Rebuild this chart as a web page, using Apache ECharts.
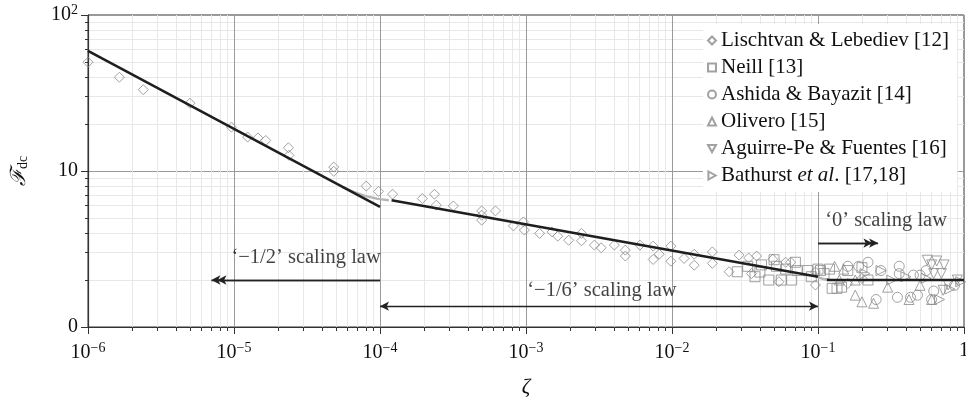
<!DOCTYPE html>
<html>
<head>
<meta charset="utf-8">
<script src="https://cdn.jsdelivr.net/npm/echarts@6/dist/echarts.min.js"></script>
<style>
  html, body { margin: 0; padding: 0; background: #fff; }
  #chart { width: 966px; height: 397px; }
</style>
</head>
<body>
<div id="chart"></div>
<script>
// data: [zeta, F_dc]
const lischtvan = [
  [1e-6, 49.8], [1.64e-6, 39.9], [2.39e-6, 33.2], [4.99e-6, 27.2], [9.6e-6, 19.1],
  [1.24e-5, 16.5], [1.46e-5, 16.3], [1.65e-5, 15.7], [2.36e-5, 14.1], [2.38e-5, 12.6],
  [4.82e-5, 10.6], [4.82e-5, 9.95], [8.05e-5, 8.0], [9.77e-5, 7.4], [1.22e-4, 7.1],
  [1.95e-4, 6.66], [2.36e-4, 7.1], [2.43e-4, 6.04], [3.18e-4, 5.97], [4.97e-4, 5.55],
  [4.97e-4, 5.21], [4.97e-4, 4.84], [6.18e-4, 5.55], [8.2e-4, 4.45], [9.6e-4, 4.72],
  [9.75e-4, 4.18], [1.24e-3, 3.98], [1.51e-3, 4.07], [1.65e-3, 3.82], [1.96e-3, 3.6],
  [2.4e-3, 3.98], [2.4e-3, 3.57], [2.94e-3, 3.35], [3.27e-3, 3.22], [4.03e-3, 3.35],
  [4.79e-3, 3.11], [4.79e-3, 2.85], [6.03e-3, 3.35], [7.43e-3, 3.3], [7.43e-3, 2.71],
  [8.17e-3, 2.93], [9.82e-3, 3.3], [9.82e-3, 2.64], [1.21e-2, 2.75], [1.42e-2, 2.93],
  [1.42e-2, 2.49], [1.89e-2, 3.03], [1.89e-2, 2.56], [2.46e-2, 2.26], [2.88e-2, 2.89],
  [3.35e-2, 2.77], [3.8e-2, 2.85], [4.9e-2, 2.72], [6.0e-2, 2.6], [6.5e-2, 2.6],
  [3.5e-2, 2.2], [5.4e-2, 1.95], [9.6e-2, 1.86], [9.6e-2, 2.25], [0.16, 1.9], [0.2, 2.05]
];
const neill = [
  [0.028, 2.26], [0.033, 2.45], [0.037, 2.1], [0.041, 2.5], [0.046, 2.0], [0.052, 2.45],
  [0.056, 2.0], [0.06, 2.35], [0.066, 2.0], [0.072, 2.3], [0.085, 2.3], [0.1, 2.35],
  [0.11, 2.2], [0.125, 1.77], [0.135, 1.77], [0.145, 1.8], [0.12, 2.35], [0.104, 2.3],
  [0.07, 2.6], [0.05, 2.7], [0.04, 2.25], [0.09, 2.1], [0.16, 2.3], [0.2, 2.4], [0.22, 2.0]
];
const ashida = [
  [0.16, 2.45], [0.19, 2.45], [0.22, 2.6], [0.25, 1.5], [0.36, 2.45], [0.36, 2.2],
  [0.35, 1.55], [0.43, 1.55], [0.48, 1.6], [0.45, 2.15], [0.5, 2.15], [0.6, 1.5],
  [0.62, 1.7], [0.86, 1.85], [0.27, 2.3], [0.55, 2.3]
];
const olivero = [
  [0.13, 2.45], [0.15, 2.35], [0.18, 1.6], [0.2, 1.45], [0.24, 1.42], [0.3, 1.8],
  [0.18, 2.0], [0.42, 1.5], [0.14, 2.0], [0.5, 1.85], [0.6, 1.5]
];
const aguirre = [
  [0.56, 2.68], [0.6, 2.5], [0.65, 2.65], [0.73, 2.5], [0.62, 2.2], [0.7, 2.2],
  [0.72, 1.72], [0.78, 1.86], [0.9, 2.0]
];
const bathurst = [
  [0.27, 2.3], [0.32, 2.0], [0.4, 2.1], [0.68, 1.5], [0.8, 1.75], [0.95, 1.95],
  [0.21, 2.2], [0.55, 2.05]
];

// scaling-law fits
const lawHalf = [[1e-6, 58.8], [1e-4, 5.88]];
const lawSixth = [[1.2e-4, 6.5], [0.1, 2.1]];
const lawZero = [[0.115, 2.0], [1, 2.0]];
const blendA = [[5.5e-5, 7.9], [8e-5, 6.9], [1.15e-4, 6.5]];
const blendB = [[0.1, 2.08], [0.115, 2.0]];

// arrows: start, tip, second tip
const arrowHalf = [[1e-4, 2.0], [7.0e-6, 2.0], [7.7e-6, 2.0]];
const arrowSixth = [[1e-4, 1.36], [0.1, 1.36]];
const arrowZero = [[0.1, 3.45], [0.258, 3.45], [0.236, 3.45]];

const notes = [
  [9.6e-6, 2.77, '‘−1/2’ scaling law'],
  [1.02e-3, 1.72, '‘−1/6’ scaling law'],
  [0.112, 4.84, '‘0’ scaling law']
];

const SERIF = '"Liberation Serif", "DejaVu Serif", serif';
const grey = '#8a8a8a';

function sym(name, symbol, data) {
  return {
    name: name, type: 'scatter', data: data, symbol: symbol, symbolSize: 10,
    itemStyle: { color: 'rgba(255,255,255,0)', borderColor: grey, borderWidth: 1 },
    z: 3
  };
}
function fit(data, color) {
  return {
    type: 'line', data: data, symbol: 'none', smooth: true, silent: true,
    lineStyle: { color: color, width: 2.5 }, z: 4
  };
}

const arrowLine = { color: '#222', width: 1.3, type: 'solid' };

const chart = echarts.init(document.getElementById('chart'));
chart.setOption({
  animation: false,
  grid: {
    left: 88, right: 2, top: 15, bottom: 70, outerBoundsMode: 'none',
    show: true, borderColor: '#333', borderWidth: 1
  },
  legend: {
    data: ['Lischtvan & Lebediev [12]', 'Neill [13]', 'Ashida & Bayazit [14]',
      'Olivero [15]', 'Aguirre-Pe & Fuentes [16]', 'Bathurst et al. [17,18]'],
    orient: 'vertical', left: 703, top: 24,
    backgroundColor: '#fff', padding: [6, 8, 6, 4],
    itemWidth: 8, itemHeight: 8, itemGap: 6,
    textStyle: {
      fontFamily: SERIF, fontSize: 21, color: '#111', lineHeight: 21,
      rich: {
        n: { fontFamily: SERIF, fontSize: 21, color: '#111' },
        i: { fontFamily: SERIF, fontSize: 21, color: '#111', fontStyle: 'italic' }
      }
    },
    formatter: function (n) {
      if (n.indexOf('Bathurst') === 0) return '{n|Bathurst }{i|et al}{n|. [17,18]}';
      return n;
    }
  },
  xAxis: {
    type: 'log', logBase: 10, min: 1e-6, max: 1,
    name: 'ζ', nameLocation: 'middle', nameGap: 50,
    nameTextStyle: { fontFamily: SERIF, fontSize: 21, fontStyle: 'italic', color: '#111' },
    axisLine: { lineStyle: { color: '#333', width: 1.2 } },
    axisTick: { length: 7, lineStyle: { color: '#333' } },
    minorTick: { show: true, splitNumber: 9, length: 4, lineStyle: { color: '#333' } },
    splitLine: { show: true, lineStyle: { color: '#9a9a9a' } },
    minorSplitLine: { show: true, lineStyle: { color: '#e8e8e8' } },
    axisLabel: {
      margin: 14,
      formatter: function (v) {
        const e = Math.round(Math.log10(v));
        if (e === 0) return '{b|1}';
        return '{b|10}{s|−' + (-e) + '}';
      },
      rich: {
        b: { fontFamily: SERIF, fontSize: 20, color: '#111' },
        s: { fontFamily: SERIF, fontSize: 14, color: '#111', padding: [0, 0, 9, 0] }
      }
    }
  },
  yAxis: {
    type: 'log', logBase: 10, min: 1, max: 100,
    name: '{f|ℱ}{s|dc}', nameLocation: 'middle', nameGap: 58,
    nameTextStyle: {
      rich: {
        f: { fontFamily: SERIF, fontSize: 21, fontStyle: 'italic', color: '#111' },
        s: { fontFamily: SERIF, fontSize: 14, color: '#111', padding: [7, 0, 0, 0] }
      }
    },
    axisLine: { show: true, lineStyle: { color: '#333', width: 1.2 } },
    axisTick: { length: 7, lineStyle: { color: '#333' } },
    minorTick: { show: true, splitNumber: 9, length: 3, lineStyle: { color: '#333' } },
    splitLine: { show: true, lineStyle: { color: '#9a9a9a' } },
    minorSplitLine: { show: true, lineStyle: { color: '#e8e8e8' } },
    axisLabel: {
      margin: 10,
      formatter: function (v) {
        const e = Math.round(Math.log10(v));
        if (e === 0) return '{b|0}';
        if (e === 1) return '{b|10}';
        return '{b|10}{s|' + e + '}';
      },
      rich: {
        b: { fontFamily: SERIF, fontSize: 20, color: '#111' },
        s: { fontFamily: SERIF, fontSize: 14, color: '#111', padding: [0, 0, 9, 0] }
      }
    }
  },
  series: [
    sym('Lischtvan & Lebediev [12]', 'diamond', lischtvan),
    sym('Neill [13]', 'rect', neill),
    sym('Ashida & Bayazit [14]', 'circle', ashida),
    sym('Olivero [15]', 'triangle', olivero),
    sym('Aguirre-Pe & Fuentes [16]', 'path://M0,0 L10,0 L5,9 Z', aguirre),
    sym('Bathurst et al. [17,18]', 'path://M0,0 L9,5 L0,10 Z', bathurst),
    fit(blendA, '#b5b5b5'),
    fit(blendB, '#b5b5b5'),
    fit(lawHalf, '#1e1e1e'),
    fit(lawSixth, '#1e1e1e'),
    fit(lawZero, '#1e1e1e'),
    {
      type: 'scatter', silent: true, symbolSize: 0,
      data: notes.map(function (d) { return { value: [d[0], d[1]], text: d[2] }; }),
      label: {
        show: true, position: 'right', distance: 0,
        fontFamily: SERIF, fontSize: 20.5, color: '#111',
        formatter: function (p) { return p.data.text; }
      },
      markLine: {
        silent: true, symbolSize: [7, 9],
        label: { show: false },
        lineStyle: arrowLine,
        data: [
          [{ coord: arrowHalf[0], symbol: 'none' }, { coord: arrowHalf[1], symbol: 'arrow' }],
          [{ coord: arrowHalf[0], symbol: 'none' }, { coord: arrowHalf[2], symbol: 'arrow' }],
          [{ coord: arrowSixth[0], symbol: 'arrow' }, { coord: arrowSixth[1], symbol: 'arrow' }],
          [{ coord: arrowZero[0], symbol: 'none' }, { coord: arrowZero[1], symbol: 'arrow' }],
          [{ coord: arrowZero[0], symbol: 'none' }, { coord: arrowZero[2], symbol: 'arrow' }]
        ]
      },
      z: 5
    }
  ]
});
</script>
</body>
</html>
